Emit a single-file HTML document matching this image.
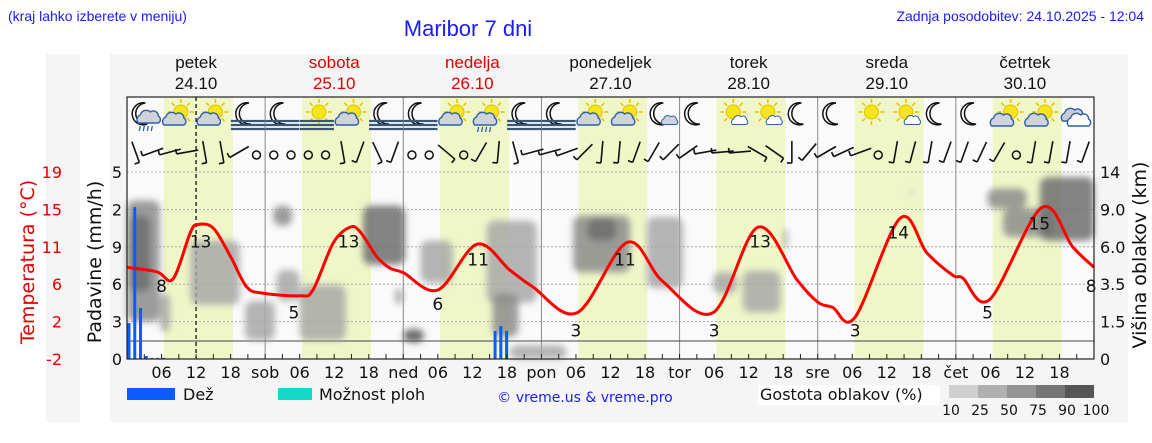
<!DOCTYPE html>
<html><head><meta charset="utf-8">
<style>
body{margin:0;background:#fff;width:1152px;height:443px;overflow:hidden;font-family:"DejaVu Sans","Liberation Sans",sans-serif}
svg{display:block}
.hd{font-family:"Liberation Sans Narrow","Liberation Sans",sans-serif}
</style></head><body>
<svg id="chart" width="1152" height="443" viewBox="0 0 1152 443" xmlns="http://www.w3.org/2000/svg">
<rect x="0" y="0" width="1152" height="443" fill="#fff"/>
<rect x="46" y="54" width="34" height="368" fill="#f5f5f5"/>
<rect x="110" y="54" width="1018" height="368" fill="#f5f5f5"/>
<text class="hd" x="8" y="21" font-size="14" fill="#1a1aff">(kraj lahko izberete v meniju)</text>
<text class="hd" x="468" y="36" font-size="22" fill="#1a1aff" text-anchor="middle">Maribor 7 dni</text>
<text class="hd" x="1144" y="21" font-size="14" fill="#1a1aff" text-anchor="end">Zadnja posodobitev: 24.10.2025 - 12:04</text>
<g id="days"></g>
<rect x="127" y="97" width="967" height="262" fill="#fafafa"/>
<g id="bands"></g>
<g id="grid"></g>
<g id="clouds" filter="url(#blur)"></g>
<g id="precip"></g>
<g id="icons"></g>
<g id="barbs"></g>
<g id="temp"></g>
<g id="axes"></g>
<defs><filter id="blur" x="-20%" y="-20%" width="140%" height="140%"><feGaussianBlur stdDeviation="3.5"/></filter></defs>
<g id="legend"></g>
</svg>
<script>
// ---- data ----
const dayNames=["petek","sobota","nedelja","ponedeljek","torek","sreda","četrtek"];
const dayDates=["24.10","25.10","26.10","27.10","28.10","29.10","30.10"];
const dayRed=[false,true,true,false,false,false,false];
const dayAbbr=["","sob","ned","pon","tor","sre","čet"];
const tempTicks=["-2","2","6","11","15","19"];
const precipTicks=["0","3","6","9","2","5"];
const cloudTicks=[0,1.5,3.5,6,9,14];
const cloudTickLabels=["0","1.5","3.5","6.0","9.0","14"];
const tempHours=[0,5.2,8,11,12.3,15,18,20.8,23.6,30,32.3,35.8,38.7,40.5,43.4,45.7,48,54,60.8,66.5,70.5,78.2,86.9,93.1,101.8,109.6,116.4,120,122.6,126.5,134.3,139,143.5,145.2,149.9,158.9,164.3,168];
const tempVals=[8.3,7.8,7.0,12.2,13.1,12.7,9.5,6.1,5.4,5.1,5.75,11.0,12.8,12.3,9.5,8.2,7.7,5.75,10.9,8.0,6.1,3.2,11.1,6.7,3.2,12.8,6.9,4.4,3.8,2.7,13.8,9.9,7.4,7.1,4.7,15.0,10.6,8.3];
const tempLabelHours=[6,12.8,29,38.5,54,61,78,86.5,102,110,126.5,134,149.5,158.5,167.5];
const tempLabelVals=["8","13","5","13","6","11","3","11","3","13","3","14","5","15","8"];
const precipHours=[0,1,2,3,4,5,6,63.6,64.6,65.6];
const precipVals=[0.96,4.06,1.36,0.08,0.03,0.03,0.03,0.75,0.88,0.75];
const cloudH0=[0,0.5,5.7,11,25.4,20.5,30,26,41,46.5,48,51,62.5,63.5,66.5,77.5,80,90.3,101.8,107,114,135.7,149.5,152.2,158.6];
const cloudH1=[5.7,4,7.5,19.6,28.7,25.7,38,30,48.3,48,51.6,56.6,71.2,68,76.4,87.4,85,96.6,106,113.5,114.8,137,156.3,160.9,168];
const cloudKmLo=[1.5,3.1,1.1,2.4,7.7,0.75,0.75,2.6,4.8,2.4,0.67,3.6,2.5,0.9,0,4.3,6.5,3.3,3.0,2.0,5.8,11,9.1,6.8,6.5];
const cloudKmHi=[10.2,8.5,3.0,6.5,9.5,2.6,3.45,4.45,9.5,3.3,1.2,6.5,8.1,3.0,0.55,8.5,8.3,8.4,4.3,4.4,7.5,11.6,11.8,9.1,13.3];
const cloudDens=[55,80,30,45,50,30,40,40,75,25,90,40,40,55,35,60,80,40,35,40,25,20,55,55,85];
const iconTypes=["moonrain","suncloud","suncloud","moonfog","moonfog","sunfog","suncloud","moonfog","moonfog","suncloud","sunrain","moonfog","moonfog","suncloud","suncloud","mooncloud","moon","sunsmall","sunsmall","moon","moon","sun","sunsmall","moon","moon","cloudsun","cloudsun","clouds"];
const windTilt=[-20,70,75,80,-10,-10,60,null, null,null,null,null,-10,20,-25,20, null,null,-50,null,30,5,-15,75, 75,70,45,5,5,20,30,45, 55,80,85,85,-60,-55,0,40, 60,65,70,null,10,15,10,20, 20,25,30,null,10,10,10,20];

// ---- scales ----
const X0=127,X1=1094,YB=359,ROW=37.4;
const xH=h=>X0+(X1-X0)*h/168;
const rowY=i=>YB-i*ROW;
const yT=t=>YB-(t+2)*8.9;
const yP=v=>YB-v*37.4;
function yKm(k){for(let i=0;i<cloudTicks.length-1;i++){if(k<=cloudTicks[i+1]){return rowY(i)-(k-cloudTicks[i])/(cloudTicks[i+1]-cloudTicks[i])*ROW;}}return rowY(5);}
const NS="http://www.w3.org/2000/svg";
function mk(tag,attrs,parent,txt){const e=document.createElementNS(NS,tag);for(const k in attrs)e.setAttribute(k,attrs[k]);if(txt!==undefined)e.textContent=txt;parent.appendChild(e);return e;}
const g=id=>document.getElementById(id);

dayNames.forEach((n,i)=>{
  const cx=xH(24*i+12),col=dayRed[i]?"#e00000":"#111";
  const t1=mk("text",{x:cx,y:68,"font-size":17,"text-anchor":"middle",fill:col,class:"hd"},g("days"),n);
  
  
  const t2=mk("text",{x:cx,y:89,"font-size":17,"text-anchor":"middle",fill:col,class:"hd"},g("days"),dayDates[i]);
  
  
});
for(let d=0;d<7;d++){
  const r=mk("rect",{x:xH(24*d+6.4),y:97,width:xH(18.4)-xH(6.4),height:262,fill:"#eff6c8"},g("bands"));
  
  
}
for(let i=1;i<6;i++){
  const l=mk("line",{x1:X0,x2:X1,y1:rowY(i),y2:rowY(i),stroke:"#999","stroke-width":0.8,"stroke-dasharray":"2,2"},g("grid"));
  
  
}
for(let d=1;d<7;d++){
  const l=mk("line",{x1:xH(24*d),x2:xH(24*d),y1:97,y2:YB,stroke:"#888","stroke-width":1},g("grid"));
  
  
}
const base=mk("line",{x1:X0,x2:X1,y1:341,y2:341,stroke:"#444","stroke-width":1},g("grid"));


const dcol=d=>d>=90?"#555":d>=75?"#6e6e6e":d>=50?"#8c8c8c":d>=25?"#a8a8a8":"#c8c8c8";
cloudH0.forEach((h,i)=>{
  const y1=yKm(cloudKmHi[i]),y2=yKm(cloudKmLo[i]);
  const r=mk("rect",{x:xH(h),y:y1,width:xH(cloudH1[i])-xH(h),height:y2-y1,rx:8,fill:dcol(cloudDens[i]),opacity:0.85},g("clouds"));
  
  
});
precipHours.forEach((h,i)=>{
  const y=yP(precipVals[i]);
  const r=mk("rect",{x:xH(h)+0.5,y:y,width:3,height:YB-y,fill:"#0a5cff"},g("precip"));
  
  
});
const now=mk("line",{x1:xH(12),x2:xH(12),y1:97,y2:YB,stroke:"#111","stroke-width":1.3,"stroke-dasharray":"4,3"},g("grid"));


function sun(p,cx,cy,r){for(let a=0;a<8;a++){const an=a*Math.PI/4;mk("line",{x1:cx+Math.cos(an)*(r+2),y1:cy+Math.sin(an)*(r+2),x2:cx+Math.cos(an)*(r+6),y2:cy+Math.sin(an)*(r+6),stroke:"#e8c400","stroke-width":1.6},p);}mk("circle",{cx:cx,cy:cy,r:r,fill:"#f6e41c",stroke:"#e0c000"},p);}
function moon(p,cx,cy){mk("path",{d:`M${cx+3},${cy-11} A11,11 0 1 0 ${cx+5},${cy+10} A9,9 0 1 1 ${cx+3},${cy-11}Z`,fill:"#fff",stroke:"#111","stroke-width":1.5},p);}
function cloud(p,cx,cy,s,fill){mk("path",{d:`M${cx-10*s},${cy+5*s} a5,5 0 0 1 2,-8 a6,6 0 0 1 10,-3 a5,5 0 0 1 8,4 a4,4 0 0 1 0,7 z`,fill:fill||"#cfd3da",stroke:"#2f5fa8","stroke-width":1.4,transform:`translate(${cx} ${cy}) scale(${s}) translate(${-cx} ${-cy})`},p);}
function fog(p,cx,cy){[5,9,13].forEach(o=>mk("line",{x1:cx-17,x2:cx+17,y1:cy+o,y2:cy+o,stroke:"#3b5675","stroke-width":2.2},p));}
function rain(p,cx,cy){[-5,-1,3,7].forEach(o=>mk("line",{x1:cx+o,x2:cx+o-1,y1:cy,y2:cy+5,stroke:"#2f5fa8","stroke-width":1.3},p));}
iconTypes.forEach((t,i)=>{
  const cx=X0+17.3+i*34.53,cy=116;
  const p=mk("g",{},g("icons"));
  
  
  if(t.startsWith("moon"))moon(p,cx-2,cy-2);
  if(t.startsWith("sun")||t==="cloudsun")sun(p,t==="cloudsun"?cx+3:cx+2,cy-4,7);
  if(t.endsWith("fog"))fog(p,cx,cy);
  if(t==="moonrain"){cloud(p,cx+4,cy+2,1);rain(p,cx+1,cy+10);}
  if(t==="mooncloud")cloud(p,cx+5,cy+6,0.7);
  if(t==="suncloud")cloud(p,cx-5,cy+4,1);
  if(t==="sunrain"){cloud(p,cx-5,cy+4,1);rain(p,cx-6,cy+11);}
  if(t==="sunsmall")cloud(p,cx+6,cy+6,0.7,"#fff");
  if(t==="cloudsun")cloud(p,cx-6,cy+5,1);
  if(t==="clouds"){cloud(p,cx-4,cy,1,"#c8ccd4");cloud(p,cx+2,cy+5,1,"#fff");}
});
windTilt.forEach((a,i)=>{
  const cx=X0+8.6+i*17.27,cy=152;
  const p=mk("g",{},g("barbs"));
  
  
  if(a===null){mk("circle",{cx:cx,cy:cy+3,r:4,fill:"none",stroke:"#111","stroke-width":1.5},p);return;}
  const r=a*Math.PI/180,L=11;
  const dx=Math.sin(r)*L,dy=Math.cos(r)*L;
  mk("line",{x1:cx-dx,y1:cy+dy,x2:cx+dx,y2:cy-dy,stroke:"#111","stroke-width":1.6},p);
  mk("line",{x1:cx-dx,y1:cy+dy,x2:cx-dx-Math.cos(r)*5,y2:cy+dy-Math.sin(r)*5,stroke:"#111","stroke-width":1.6},p);
});
const pts=tempHours.map((h,i)=>[xH(h),yT(tempVals[i])]);
let d=`M${pts[0][0]},${pts[0][1]}`;
for(let i=0;i<pts.length-1;i++){const p0=pts[Math.max(0,i-1)],p1=pts[i],p2=pts[i+1],p3=pts[Math.min(pts.length-1,i+2)];
 d+=` C${p1[0]+(p2[0]-p0[0])/6},${p1[1]+(p2[1]-p0[1])/6} ${p2[0]-(p3[0]-p1[0])/6},${p2[1]-(p3[1]-p1[1])/6} ${p2[0]},${p2[1]}`;}
const tl=mk("path",{d:d,fill:"none",stroke:"#f00","stroke-width":3,"stroke-linejoin":"round"},g("temp"));


tempLabelHours.forEach((h,i)=>{
  const v=parseFloat(tempLabelVals[i]);
  const t=mk("text",{x:xH(h),y:yT(v)+22,"font-size":17,"text-anchor":"middle",fill:"#111"},g("temp"),tempLabelVals[i]);
  
  
});
const ax=g("axes");
const fr=mk("rect",{x:X0,y:97,width:X1-X0,height:262,fill:"none",stroke:"#222","stroke-width":1.2},ax);


for(let h=3;h<168;h+=3){
  const tk=mk("line",{x1:xH(h),x2:xH(h),y1:YB,y2:YB-5,stroke:"#222"},ax);
  
  
  const lab=h%24===0?dayAbbr[h/24]:(h%6===0?String(h%24).padStart(2,"0"):"");
  if(lab){const t=mk("text",{x:xH(h),y:378,"font-size":16,"text-anchor":"middle",fill:"#111"},ax,lab);
    
    }
}
tempTicks.forEach((s,i)=>{const t=mk("text",{x:62,y:rowY(i)+6,"font-size":16,"text-anchor":"end",fill:"#e00000"},ax,s);
  
  });
precipTicks.forEach((s,i)=>{const t=mk("text",{x:122,y:rowY(i)+6,"font-size":16,"text-anchor":"end",fill:"#111"},ax,s);
  
  });
cloudTickLabels.forEach((s,i)=>{const t=mk("text",{x:1100,y:rowY(i)+6,"font-size":16,fill:"#111"},ax,s);
  
  });
const a1=mk("text",{x:0,y:0,"font-size":19,"text-anchor":"middle",fill:"#e00000",transform:"translate(34 262) rotate(-90)"},ax,"Temperatura (°C)");

const a2=mk("text",{x:0,y:0,"font-size":19,"text-anchor":"middle",fill:"#111",transform:"translate(101 262) rotate(-90)"},ax,"Padavine (mm/h)");

const a3=mk("text",{x:0,y:0,"font-size":19,"text-anchor":"middle",fill:"#111",transform:"translate(1146 255) rotate(-90)"},ax,"Višina oblakov (km)");

const lg=g("legend");
const l1=mk("rect",{x:127,y:388,width:48,height:12,fill:"#0a5cff"},lg);
const l2=mk("text",{x:183,y:400,"font-size":16,fill:"#111"},lg,"Dež");
const l3=mk("rect",{x:278,y:388,width:34,height:12,fill:"#14d8c8"},lg);
const l4=mk("text",{x:319,y:400,"font-size":16,fill:"#111"},lg,"Možnost ploh");
const l5=mk("text",{x:585,y:402,"font-size":14,"text-anchor":"middle",fill:"#1a1aff"},lg,"© vreme.us & vreme.pro");
const l6b=mk("rect",{x:758,y:385,width:182,height:20,fill:"#fff"},lg);
const l6=mk("text",{x:760,y:400,"font-size":16,fill:"#111"},lg,"Gostota oblakov (%)");
const dcols=["#d0d0d0","#b0b0b0","#939393","#767676","#565656"];
dcols.forEach((c,i)=>{const r=mk("rect",{x:949+i*29,y:385,width:29,height:13,fill:c},lg);});
["10","25","50","75","90","100"].forEach((s,i)=>{const t=mk("text",{x:951+i*29,y:415,"font-size":14,"text-anchor":"middle",fill:"#111"},lg,s);});
</script>
</body></html>
